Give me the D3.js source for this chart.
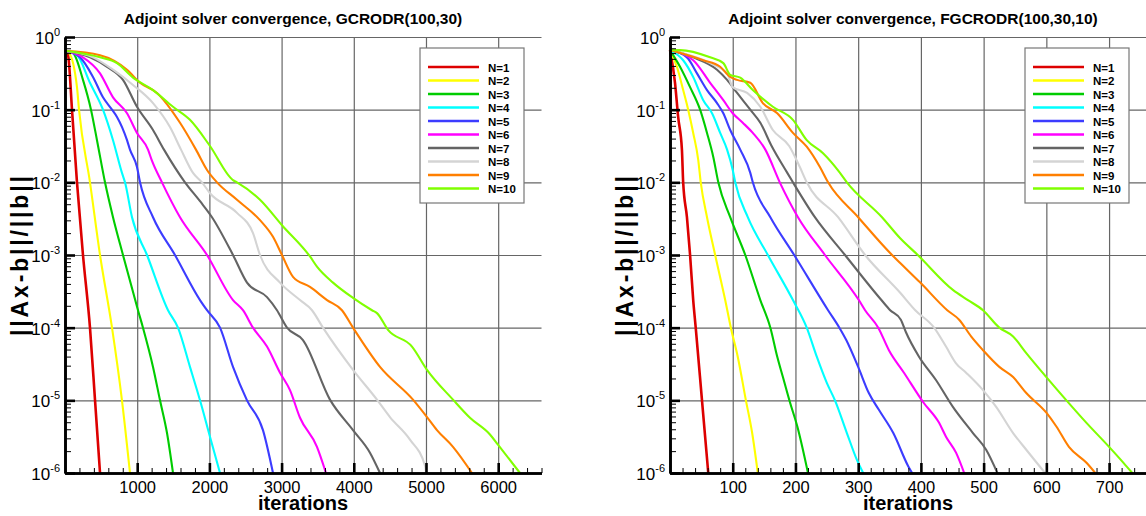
<!DOCTYPE html>
<html>
<head>
<meta charset="utf-8">
<script src="https://cdn.jsdelivr.net/npm/d3@7"></script>
<style>
  body { margin: 0; background: #fff; }
  svg { display: block; font-family: "Liberation Sans", Arial, Helvetica, sans-serif; }
  .grid line { stroke: #666; stroke-width: 1.2px; }
  .grid .domain { display: none; }
</style>
</head>
<body>
<div class="chart"></div>
<script>

// Legend names and line colours
var seriesNames = ["N=1", "N=2", "N=3", "N=4", "N=5", "N=6", "N=7", "N=8", "N=9", "N=10"];
var seriesColors = ["#dd0000", "#ffff00", "#00cc00", "#00ffff", "#3c3cff",
                    "#ff00ff", "#646464", "#d4d4d4", "#ff7f00", "#80ff00"];

// Tick labels
var yTickExps = [0, -1, -2, -3, -4, -5, -6];
var gcrodrXTicks = [1000, 2000, 3000, 4000, 5000, 6000];
var fgcrodrXTicks = [100, 200, 300, 400, 500, 600, 700];

// GCRODR(100,30): [iteration, log10(||Ax-b||/||b||)]
var gcrodr1 = [[0,-0.19],[42,-0.25],[97,-1],[166,-2],[249,-3],[346,-4],[416,-5],[485,-6]];
var gcrodr2 = [[0,-0.19],[55,-0.22],[166,-0.69],[194,-1],[346,-2],[485,-3],[651,-4],[789,-5],[900,-6]];
var gcrodr3 = [[0,-0.19],[111,-0.22],[249,-0.59],[360,-1],[443,-1.42],[554,-2],[665,-2.48],[803,-3],
               [1011,-3.76],[1080,-4],[1219,-4.54],[1316,-5],[1413,-5.45],[1496,-6]];
var gcrodr4 = [[0,-0.19],[166,-0.25],[346,-0.63],[526,-1],[665,-1.42],[789,-1.87],[831,-2],[928,-2.48],
               [1136,-3],[1427,-3.76],[1565,-4],[1731,-4.54],[1870,-5],[2008,-5.5],[2147,-6]];
var gcrodr5 = [[0,-0.19],[208,-0.28],[388,-0.55],[526,-0.83],[651,-1],[720,-1.1],[859,-1.42],[900,-1.55],
               [997,-1.79],[1039,-2],[1219,-2.48],[1523,-3],[1870,-3.62],[1967,-3.76],[2147,-4],
               [2327,-4.54],[2521,-5],[2742,-5.41],[2881,-6]];
var gcrodr6 = [[0,-0.19],[249,-0.28],[485,-0.5],[665,-0.83],[859,-1.05],[997,-1.32],[1150,-1.55],[1200,-1.69],
               [1343,-2],[1593,-2.48],[1967,-3],[2327,-3.62],[2465,-3.76],[2604,-4],[2798,-4.26],
               [2978,-4.62],[3116,-4.86],[3255,-5.24],[3490,-5.64],[3615,-6]];
var gcrodr7 = [[0,-0.19],[346,-0.28],[582,-0.41],[803,-0.59],[997,-0.96],[1219,-1.28],[1371,-1.55],
               [1662,-2],[1870,-2.26],[2036,-2.48],[2327,-3],[2521,-3.38],[2798,-3.58],[2936,-3.76],
               [3075,-4],[3296,-4.17],[3670,-4.99],[3989,-5.41],[4224,-5.72],[4363,-6]];
var gcrodr8 = [[0,-0.19],[388,-0.28],[665,-0.45],[942,-0.66],[1219,-0.91],[1454,-1.24],[1607,-1.55],
               [1773,-1.87],[1897,-2],[2008,-2.15],[2382,-2.42],[2604,-2.7],[2701,-3],[2978,-3.38],
               [3255,-3.62],[3421,-3.76],[3573,-4],[3989,-4.58],[4321,-4.99],[4501,-5.23],[4778,-5.54],
               [4990,-5.91],[5000,-6]];
var gcrodr9 = [[0,-0.19],[485,-0.25],[859,-0.45],[1039,-0.63],[1274,-0.77],[1593,-1.18],[1814,-1.55],
               [1967,-1.83],[2105,-2],[2382,-2.24],[2701,-2.52],[2881,-2.75],[3005,-3],[3158,-3.3],
               [3393,-3.44],[3629,-3.62],[3836,-3.76],[3989,-4],[4363,-4.54],[4820,-4.99],[5014,-5.23],
               [5152,-5.41],[5374,-5.64],[5637,-6]];
var gcrodr10 = [[0,-0.19],[485,-0.28],[720,-0.36],[942,-0.56],[1219,-0.73],[1496,-0.96],[1731,-1.14],
                [2008,-1.5],[2327,-1.97],[2382,-2],[2701,-2.24],[3005,-2.59],[3393,-3.02],[3490,-3.16],
                [3712,-3.38],[3989,-3.59],[4252,-3.76],[4321,-3.8],[4474,-4.03],[4806,-4.26],[5014,-4.58],
                [5374,-4.99],[5609,-5.24],[5886,-5.47],[5997,-5.61],[6302,-6]];

// FGCRODR(100,30,10)
var fgcrodr1 = [[0,-0.18],[8,-0.63],[13,-1.1],[19,-1.55],[21,-2],[27,-2.48],[32,-3],[37,-3.62],[41,-4],
                [51,-5],[61,-6]];
var fgcrodr2 = [[0,-0.18],[11,-0.41],[21,-0.73],[29,-1],[37,-1.32],[45,-1.69],[49,-2],[59,-2.48],[72,-3],
                [88,-3.62],[97,-4],[108,-4.4],[121,-5],[131,-5.45],[140,-6]];
var fgcrodr3 = [[0,-0.18],[16,-0.41],[32,-0.69],[48,-1],[59,-1.32],[69,-1.65],[77,-2],[96,-2.48],[120,-3],
                [144,-3.62],[160,-4],[171,-4.4],[180,-4.68],[191,-5.02],[203,-5.36],[220,-6]];
var fgcrodr4 = [[0,-0.18],[21,-0.32],[37,-0.55],[53,-0.87],[67,-1.05],[80,-1.32],[91,-1.55],[100,-1.83],
                [104,-2],[124,-2.48],[156,-3],[196,-3.62],[218,-4],[234,-4.4],[250,-4.76],[263,-5],
                [282,-5.45],[298,-5.82],[308,-6]];
var fgcrodr5 = [[0,-0.18],[27,-0.28],[43,-0.5],[59,-0.73],[75,-0.91],[85,-1.05],[96,-1.28],[112,-1.55],
                [128,-1.87],[132,-2],[160,-2.48],[198,-3],[252,-3.76],[270,-4],[281,-4.17],[300,-4.54],
                [317,-4.9],[333,-5.13],[356,-5.45],[380,-5.91],[386,-6]];
var fgcrodr6 = [[0,-0.18],[37,-0.32],[64,-0.63],[85,-0.87],[100,-1.05],[116,-1.18],[132,-1.32],[152,-1.55],
                [175,-2],[204,-2.48],[247,-3],[301,-3.62],[311,-3.76],[332,-4],[349,-4.31],[373,-4.62],
                [404,-5.03],[429,-5.31],[440,-5.5],[456,-5.72],[469,-6]];
var fgcrodr7 = [[0,-0.18],[37,-0.28],[75,-0.45],[91,-0.59],[107,-0.77],[128,-1],[144,-1.18],[162,-1.5],
                [187,-1.87],[196,-2],[231,-2.48],[279,-3],[337,-3.62],[351,-3.76],[368,-3.89],[376,-4.06],
                [397,-4.4],[424,-4.72],[451,-5.09],[483,-5.45],[504,-5.68],[522,-6]];
var fgcrodr8 = [[0,-0.18],[64,-0.36],[91,-0.5],[100,-0.69],[123,-0.77],[144,-0.96],[164,-1.28],[190,-1.5],
                [207,-1.79],[218,-2],[268,-2.48],[311,-3],[367,-3.52],[391,-3.76],[421,-4],[440,-4.26],
                [456,-4.49],[472,-4.62],[499,-4.86],[520,-5.09],[547,-5.45],[568,-5.68],[598,-6]];
var fgcrodr9 = [[0,-0.18],[53,-0.32],[80,-0.41],[96,-0.55],[107,-0.59],[128,-0.63],[148,-0.91],[171,-1.05],
                [196,-1.32],[218,-1.51],[239,-1.79],[252,-2],[300,-2.48],[354,-3],[367,-3.11],[399,-3.38],
                [442,-3.76],[461,-3.89],[480,-4.12],[499,-4.31],[525,-4.54],[547,-4.68],[568,-4.9],
                [600,-5.17],[616,-5.36],[636,-5.64],[664,-5.86],[678,-6]];
var fgcrodr10 = [[0,-0.18],[16,-0.18],[64,-0.28],[85,-0.36],[96,-0.52],[112,-0.56],[132,-0.73],[164,-0.96],
                 [196,-1.14],[218,-1.42],[244,-1.6],[271,-1.87],[282,-2],[338,-2.48],[367,-2.77],[395,-3],
                 [451,-3.48],[475,-3.62],[499,-3.76],[525,-4],[547,-4.12],[568,-4.35],[600,-4.68],
                 [632,-5],[664,-5.31],[700,-5.64],[723,-5.86],[737,-6]];

var gcrodrSeries = [gcrodr1, gcrodr2, gcrodr3, gcrodr4, gcrodr5, gcrodr6, gcrodr7, gcrodr8, gcrodr9, gcrodr10];
var fgcrodrSeries = [fgcrodr1, fgcrodr2, fgcrodr3, fgcrodr4, fgcrodr5, fgcrodr6, fgcrodr7, fgcrodr8, fgcrodr9, fgcrodr10];

var width = 1146, height = 516;
var plotTop = 37, plotBottom = 473;

var panels = [
    { title: "Adjoint solver convergence, GCRODR(100,30)", series: gcrodrSeries,
      xTicks: gcrodrXTicks, xMax: 6600, xMinorStep: 200, x0: 65, x1: 541.5,
      titleX: 293, xLabelX: 303, yLabelX: 28 },
    { title: "Adjoint solver convergence, FGCRODR(100,30,10)", series: fgcrodrSeries,
      xTicks: fgcrodrXTicks, xMax: 800, xMinorStep: 20, x0: 670, x1: 1171.8,
      titleX: 913, xLabelX: 908, yLabelX: 633 }
];

var svg = d3.select(".chart")
    .append("svg")
      .attr("width", width)
      .attr("height", height);

svg.append("rect")
    .attr("width", width)
    .attr("height", height)
    .attr("fill", "#fff");

panels.forEach(function(p) { drawPanel(p); });

function drawPanel(p) {

    var x = d3.scaleLinear()
        .domain([0, p.xMax])
        .range([p.x0, p.x1]);

    var y = d3.scaleLog()
        .domain([1e-6, 1])
        .range([plotBottom, plotTop]);

    var g = svg.append("g");

    var yMajor = yTickExps.map(function(e) { return Math.pow(10, e); });
    var yMinor = [];
    for (var e = -6; e < 0; e++) {
        for (var k = 2; k <= 9; k++) yMinor.push(k * Math.pow(10, e));
    }
    var xMinor = d3.range(p.xMinorStep, p.xMax + 1e-9, p.xMinorStep)
        .filter(function(v) { return p.xTicks.indexOf(v) < 0; });

    // Grid lines
    g.append("g")
        .attr("class", "grid")
        .attr("transform", "translate(0," + plotBottom + ")")
        .call(d3.axisBottom(x)
            .tickValues(p.xTicks)
            .tickSize(-(plotBottom - plotTop))
            .tickFormat(""));

    g.append("g")
        .attr("class", "grid")
        .attr("transform", "translate(" + p.x0 + ",0)")
        .call(d3.axisLeft(y)
            .tickValues(yMajor.slice(0, 6))
            .tickSize(-(p.x1 - p.x0))
            .tickFormat(""));

    // Convergence curves
    var line = d3.line()
        .x(function(d) { return x(d[0]); })
        .y(function(d) { return y(Math.pow(10, d[1])); })
        .curve(d3.curveMonotoneX);

    g.selectAll(".curve")
        .data(p.series)
        .enter().append("path")
            .attr("class", "curve")
            .attr("d", line)
            .attr("fill", "none")
            .attr("stroke", function(d, i) { return seriesColors[i]; })
            .attr("stroke-width", function(d, i) { return i == 0 ? 2.6 : 2.1; })
            .attr("stroke-linejoin", "round");

    // Minor ticks (drawn inward)
    g.append("g")
        .attr("transform", "translate(" + p.x0 + ",0)")
        .call(d3.axisLeft(y).tickValues(yMinor).tickSize(-6).tickSizeOuter(0).tickFormat(""))
        .call(styleAxis, 1);

    g.append("g")
        .attr("transform", "translate(0," + plotBottom + ")")
        .call(d3.axisBottom(x).tickValues(xMinor).tickSize(-5).tickSizeOuter(0).tickFormat(""))
        .call(styleAxis, 1);

    // Major ticks
    g.append("g")
        .attr("transform", "translate(" + p.x0 + ",0)")
        .call(d3.axisLeft(y).tickValues(yMajor).tickSize(-10).tickSizeOuter(0).tickFormat(""))
        .call(styleAxis, 2.6);

    var xAxis = g.append("g")
        .attr("transform", "translate(0," + plotBottom + ")")
        .call(d3.axisBottom(x)
            .tickValues(p.xTicks)
            .tickSize(-10)
            .tickSizeOuter(0)
            .tickPadding(8)
            .tickFormat(d3.format("d")))
        .call(styleAxis, 2.6);

    xAxis.selectAll("text")
        .attr("font-size", "16.5px")
        .attr("font-family", "Liberation Sans, Arial, sans-serif")
        .attr("fill", "#000");

    // y tick labels as 10 with superscript exponent
    yTickExps.forEach(function(ex) {
        var t = g.append("text")
            .attr("x", p.x0 - 5)
            .attr("y", y(Math.pow(10, ex)) + 7)
            .attr("text-anchor", "end")
            .attr("font-size", "17px");
        t.append("tspan").text("10");
        t.append("tspan")
            .attr("font-size", "11px")
            .attr("dy", -8)
            .text(ex);
    });

    // Titles and axis labels
    svg.append("text")
        .attr("x", p.titleX)
        .attr("y", 24)
        .attr("text-anchor", "middle")
        .attr("font-size", "15.5px")
        .attr("font-weight", "bold")
        .text(p.title);

    svg.append("text")
        .attr("x", p.xLabelX)
        .attr("y", 510)
        .attr("text-anchor", "middle")
        .attr("font-size", "20px")
        .attr("font-weight", "bold")
        .text("iterations");

    svg.append("text")
        .attr("transform", "translate(" + p.yLabelX + ",256) rotate(-90)")
        .attr("text-anchor", "middle")
        .attr("font-size", "23px")
        .attr("font-weight", "bold")
        .attr("textLength", 160)
        .attr("lengthAdjust", "spacing")
        .text("||Ax-b||/||b||");

    // Legend
    var legend = g.append("g")
        .attr("transform", "translate(" + (p.x0 + 355) + ",48)");

    legend.append("rect")
        .attr("width", 104)
        .attr("height", 155)
        .attr("fill", "#fff")
        .attr("stroke", "#777")
        .attr("stroke-width", 1.2);

    var items = legend.selectAll(".item")
        .data(seriesNames)
        .enter().append("g")
            .attr("class", "item")
            .attr("transform", function(d, i) { return "translate(0," + (19 + i * 13.5) + ")"; });

    items.append("line")
        .attr("x1", 8)
        .attr("x2", 59)
        .attr("stroke", function(d, i) { return seriesColors[i]; })
        .attr("stroke-width", 2.4);

    items.append("text")
        .attr("x", 68)
        .attr("y", 4.5)
        .attr("font-size", "11.5px")
        .attr("font-weight", "bold")
        .text(function(d) { return d; });
}

function styleAxis(sel, w) {
    sel.selectAll("line").attr("stroke", "#000").attr("stroke-width", w);
    sel.select(".domain").attr("stroke", "#000").attr("stroke-width", 2.6);
}

</script>
</body>
</html>
